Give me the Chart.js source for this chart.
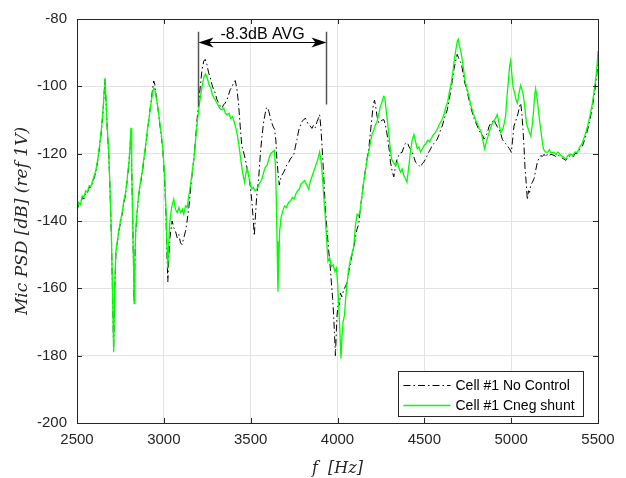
<!DOCTYPE html>
<html>
<head>
<meta charset="utf-8">
<script src="https://cdn.jsdelivr.net/npm/chart.js@4.4.1/dist/chart.umd.min.js"></script>
<style>
  html, body { margin: 0; padding: 0; background: #fff; }
  #wrap { width: 626px; height: 478px; position: relative; }
</style>
</head>
<body>
<div id="wrap"><canvas id="chart_micPsd"></canvas></div>
<script>
// axis ticks
var xTicks = [2500, 3000, 3500, 4000, 4500, 5000, 5500];
var yTicks = [-200, -180, -160, -140, -120, -100, -80];

// Cell #1 No Control (dash-dot black)
var freqNoCtrl = [
  2500, 2510, 2520, 2530, 2540, 2550, 2560, 2570, 2580, 2590, 2600, 2610, 2620, 2630, 2640, 2650, 2657, 2661, 2667, 2675,
  2683, 2690, 2698, 2705, 2711, 2717, 2724, 2731, 2740, 2750, 2760, 2770, 2780, 2790, 2800, 2806, 2811, 2815, 2821, 2825,
  2829, 2833, 2838, 2845, 2855, 2865, 2875, 2885, 2895, 2905, 2915, 2925, 2935, 2942, 2948, 2955, 2965, 2975, 2985, 2995,
  3005, 3012, 3018, 3023, 3028, 3035, 3048, 3057, 3067, 3077, 3086, 3096, 3105, 3115, 3125, 3134, 3144, 3153, 3163, 3173,
  3183, 3192, 3202, 3211, 3220, 3230, 3238, 3248, 3258, 3267, 3277, 3287, 3296, 3306, 3316, 3326, 3334, 3344, 3353, 3363,
  3373, 3382, 3392, 3401, 3411, 3420, 3430, 3440, 3449, 3459, 3469, 3478, 3488, 3497, 3507, 3514, 3521, 3528, 3535, 3546,
  3556, 3565, 3575, 3584, 3590, 3597, 3605, 3614, 3622, 3630, 3638, 3645, 3651, 3658, 3665, 3672, 3680, 3690, 3699, 3710,
  3720, 3728, 3737, 3747, 3757, 3767, 3777, 3787, 3795, 3805, 3815, 3824, 3834, 3843, 3853, 3862, 3872, 3882, 3890, 3897,
  3904, 3911, 3920, 3930, 3940, 3949, 3957, 3965, 3972, 3978, 3984, 3988, 3993, 3997, 4005, 4011, 4017, 4025, 4036, 4045,
  4055, 4065, 4074, 4084, 4094, 4103, 4112, 4122, 4132, 4141, 4151, 4160, 4170, 4180, 4190, 4199, 4206, 4213, 4220, 4228,
  4238, 4248, 4257, 4267, 4276, 4283, 4290, 4298, 4305, 4314, 4324, 4333, 4343, 4353, 4362, 4372, 4382, 4390, 4397, 4405,
  4412, 4420, 4430, 4440, 4449, 4459, 4469, 4478, 4488, 4497, 4507, 4517, 4526, 4536, 4545, 4555, 4564, 4574, 4584, 4593,
  4603, 4613, 4622, 4632, 4642, 4651, 4661, 4670, 4680, 4689, 4697, 4705, 4714, 4724, 4734, 4745, 4757, 4767, 4777, 4786,
  4795, 4805, 4815, 4825, 4835, 4844, 4853, 4863, 4872, 4882, 4892, 4901, 4910, 4920, 4930, 4940, 4949, 4958, 4968, 4978,
  4990, 5001, 5008, 5016, 5028, 5040, 5048, 5055, 5062, 5068, 5074, 5080, 5087, 5093, 5100, 5106, 5113, 5122, 5132, 5141,
  5151, 5160, 5170, 5180, 5190, 5200, 5209, 5220, 5230, 5247, 5260, 5275, 5286, 5300, 5314, 5328, 5343, 5355, 5368, 5382,
  5395, 5411, 5425, 5440, 5455, 5468, 5480, 5490, 5497, 5500
];
var psdNoCtrl = [
  -137, -135, -135.5, -133, -133.5, -131.5, -131.5, -130, -130, -128.5, -127, -125, -122, -118, -113.5, -107.5, -101.5, -98, -104.5, -113.5,
  -120.5, -130.5, -144.5, -162.5, -178.5, -160.5, -149.5, -147, -143.5, -140.5, -138, -134.5, -132, -127.5, -122.5, -117.5, -113, -124.5, -140.5, -152.5,
  -164, -152.5, -143.5, -138.5, -132.5, -129, -126, -122, -118, -113.5, -109.5, -105, -101, -98.4, -99.5, -102.5, -106, -110.5, -114.5, -119.5,
  -128, -138, -150, -158, -151, -145, -140, -142, -143, -145, -144, -146.5, -147, -145, -143, -140, -136, -131, -126, -121.5,
  -115.5, -109.5, -104, -99.5, -95, -92.5, -92, -93.5, -96, -97.3, -99.5, -101, -102, -104, -105, -106, -106.5, -105.5, -105, -104.1,
  -102.5, -101, -100.2, -99, -98.3, -100.5, -105, -112, -117.7, -119.5, -121.6, -124, -126.4, -129.5, -134.2, -139, -144.4, -138, -132.5, -127.4,
  -120, -114.8, -110.5, -108, -106.5, -106.2, -107.5, -109.5, -110.9, -112, -112.8, -116, -121.6, -126, -129.3, -127.5, -126.4, -125.5, -124.5, -123,
  -122.5, -121.6, -121, -120.6, -118, -115.7, -113, -111.5, -110.4, -110, -109.4, -110.5, -111.5, -111.8, -112.5, -111.5, -112.3, -110.5, -109.5, -108.4,
  -112, -117.7, -126, -136.1, -143, -148.7, -153, -158.4, -163, -168.2, -175, -180, -173, -168.2, -164, -165, -161.4, -162.5, -160.4, -159.5,
  -158.4, -155, -152.6, -150, -147.8, -145, -142.5, -141, -136, -132.5, -128.3, -125, -121.5, -118.6, -113.5, -108.9, -105.5, -104.1, -106, -109,
  -110.9, -110.5, -110, -109.9, -111.5, -113.5, -115.7, -119, -122.5, -125, -126.9, -124, -121.6, -120.5, -119.8, -119.6, -118, -117, -116.7, -117,
  -118, -118.6, -119.5, -121, -122.5, -123, -123.5, -124, -123, -122.5, -121.6, -120.5, -119.5, -118.6, -117.5, -117, -116.5, -115.7, -114.5, -113,
  -111.8, -110, -108.5, -107, -104.5, -101.5, -98.3, -95, -92.5, -90.5, -91.5, -92.5, -93.4, -96.5, -99.2, -101, -104, -106, -108, -109.5,
  -110.5, -111.8, -113, -114, -114.5, -115.7, -115, -113.8, -112, -111, -110.5, -109.9, -111, -112, -112.8, -114, -115.7, -116.5, -117, -117.7,
  -118.5, -119.6, -116, -111.8, -110, -108, -106, -105, -108.5, -112.8, -118, -124.5, -129, -133.7, -131, -131.5, -129.3, -128.5, -127.4, -125,
  -122.5, -121.5, -120.6, -120.8, -120.2, -121, -120.1, -120.5, -120.2, -120.5, -121, -120.5, -121, -121.5, -122, -121, -120.5, -121, -120, -119.8,
  -118.5, -117.7, -115.5, -113, -109.5, -106, -102, -98, -94.5, -93
];

// Cell #1 Cneg shunt (solid green)
var freqCneg = [
  2500, 2510, 2520, 2530, 2540, 2550, 2560, 2570, 2580, 2590, 2600, 2610, 2620, 2630, 2640, 2650, 2657, 2661, 2667, 2675,
  2683, 2690, 2698, 2705, 2711, 2717, 2724, 2731, 2740, 2750, 2760, 2770, 2780, 2790, 2800, 2806, 2811, 2815, 2821, 2825,
  2829, 2833, 2838, 2845, 2855, 2865, 2875, 2885, 2895, 2905, 2915, 2925, 2935, 2942, 2948, 2955, 2965, 2975, 2985, 2995,
  3005, 3012, 3018, 3023, 3028, 3035, 3045, 3057, 3067, 3077, 3087, 3097, 3107, 3115, 3125, 3134, 3144, 3153, 3163, 3173,
  3183, 3192, 3202, 3211, 3222, 3232, 3240, 3250, 3260, 3270, 3280, 3290, 3300, 3312, 3322, 3334, 3345, 3355, 3365, 3375,
  3385, 3395, 3405, 3415, 3425, 3435, 3445, 3455, 3465, 3472, 3480, 3490, 3500, 3507, 3515, 3525, 3536, 3545, 3555, 3565,
  3575, 3585, 3594, 3605, 3615, 3625, 3636, 3642, 3647, 3652, 3657, 3662, 3667, 3675, 3685, 3695, 3705, 3718, 3730, 3740,
  3750, 3760, 3770, 3780, 3790, 3800, 3810, 3820, 3834, 3845, 3855, 3865, 3875, 3885, 3897, 3905, 3912, 3920, 3930, 3938,
  3945, 3955, 3965, 3975, 3985, 3994, 4000, 4007, 4014, 4020, 4026, 4032, 4040, 4047, 4055, 4064, 4074, 4084, 4094, 4103,
  4113, 4122, 4132, 4142, 4151, 4161, 4170, 4180, 4190, 4200, 4209, 4218, 4228, 4238, 4247, 4257, 4265, 4272, 4280, 4288,
  4295, 4303, 4311, 4320, 4334, 4345, 4355, 4363, 4372, 4382, 4392, 4400, 4410, 4420, 4430, 4440, 4450, 4459, 4469, 4478,
  4490, 4500, 4510, 4520, 4530, 4540, 4550, 4560, 4574, 4585, 4595, 4605, 4615, 4625, 4635, 4645, 4655, 4665, 4674, 4682,
  4690, 4695, 4702, 4710, 4718, 4726, 4734, 4745, 4757, 4767, 4776, 4785, 4795, 4805, 4815, 4824, 4835, 4847, 4857, 4867,
  4877, 4887, 4897, 4910, 4920, 4930, 4940, 4950, 4960, 4968, 4976, 4984, 4991, 4997, 5004, 5011, 5020, 5028, 5036, 5045,
  5055, 5062, 5070, 5078, 5088, 5100, 5113, 5120, 5128, 5135, 5141, 5148, 5155, 5162, 5170, 5178, 5186, 5197, 5209, 5220,
  5230, 5247, 5258, 5270, 5286, 5300, 5314, 5328, 5343, 5355, 5368, 5382, 5395, 5411, 5425, 5440, 5455, 5468, 5480, 5490,
  5497, 5500
];
var psdCneg = [
  -136.5, -134.5, -135, -132.5, -133, -131, -131.5, -129.5, -129.8, -128, -126.5, -124.5, -121.5, -117.5, -113, -107, -101, -97.5, -104, -113,
  -120, -130, -144, -162, -179, -160, -149, -146.5, -143, -140, -137.5, -134, -131.5, -127, -122, -117, -112.3, -124, -140, -152,
  -164.5, -152, -143, -138, -132, -128.5, -125.5, -121.5, -117.5, -113, -109.5, -105.5, -102, -100.5, -101, -103, -106, -110, -114, -119,
  -127, -136, -147, -154, -147, -140, -136, -133.5, -136.5, -137.5, -136, -137.5, -136.5, -138, -135.5, -136, -132.5, -129.5, -125.5, -121.5,
  -116, -111, -106.5, -103, -99.5, -97, -96.3, -97.5, -99.5, -100.5, -102.5, -103.5, -104.5, -105.5, -106.5, -107, -106.5, -108, -108.5, -108,
  -109.5, -109, -110.5, -112.5, -115, -118.5, -122.5, -126, -128.5, -126, -124.5, -127, -129.5, -130.5, -130, -131, -130.5, -129.5, -128.5, -127.5,
  -125.5, -124, -123.5, -121.5, -120, -119.5, -119, -123, -132, -146, -161, -152, -143, -139, -137, -135.5, -136, -134.5, -134, -133,
  -133.5, -132, -131, -130.5, -129, -128.5, -128, -129, -130.5, -128, -126.5, -125, -123.5, -122, -119.5, -122, -126, -132, -139, -146,
  -152, -151, -153.5, -153, -155, -154, -158, -165, -173, -180.8, -174, -170, -168, -163, -158.5, -154.5, -151.5, -149.5, -147.5, -141.5,
  -138, -138.5, -136.5, -132, -128.5, -125, -122, -119.5, -116.5, -114, -113, -111.5, -110.5, -108, -106, -104.5, -103, -103.2, -107, -110.5,
  -114, -118, -121.5, -122.5, -123.5, -122.5, -124.5, -125.5, -124.5, -126.5, -127.5, -128.5, -124, -119.5, -116, -114.3, -116.5, -118.5, -118, -119.5,
  -118.5, -117.5, -117, -116, -116.5, -115.5, -114.5, -114, -112.8, -111.5, -110.5, -109.5, -108, -106, -104.5, -101.5, -99, -95.5, -91.5, -89,
  -86.5, -86, -88, -89.5, -92, -95, -98.3, -100.5, -103, -105.5, -107, -108.5, -110, -111, -112.5, -113, -115.5, -118.5, -116.5, -114.8,
  -113, -111.5, -110.5, -109.5, -108.4, -111, -113.8, -113, -111, -108.9, -103, -98.3, -94, -92.4, -96.5, -100.2, -102, -104, -105, -102,
  -99.7, -101, -102.6, -106, -110.9, -113, -114.8, -112, -108, -103, -100.7, -103, -106, -109.5, -112.8, -116, -118.6, -119.5, -119.6, -118.8,
  -119.8, -119.6, -120.3, -119.5, -120.6, -121, -121.6, -120.5, -120.1, -120.6, -119.5, -119.6, -118, -116.7, -114.5, -111.8, -108.5, -105, -100.5, -96.5,
  -92, -89.5
];

// averaged band annotation
var avgBand = [3198, 3936];
var avgBandTop = -83.8;
var avgBandBottom = -105.4;
var avgArrowLevel = -86.9;
var avgLabel = '-8.3dB AVG';

function toPoints(xs, ys) {
  return xs.map(function (x, i) { return { x: x, y: ys[i] }; });
}

var axisColor = '#262626';
var sansFont = '"Liberation Sans", Arial, Helvetica, sans-serif';
var mathFont = '"DejaVu Serif", "Liberation Serif", serif';

var chart_micPsd = new Chart(document.getElementById('chart_micPsd'), {
    type: 'scatter',
    data: {
        datasets: [
            {
                label: 'Cell #1 No Control',
                data: toPoints(freqNoCtrl, psdNoCtrl),
                showLine: true,
                borderColor: '#000000',
                borderWidth: 1,
                borderDash: [7, 3, 1.5, 3],
                pointRadius: 0,
                tension: 0,
                order: 1
            },
            {
                label: 'Cell #1 Cneg shunt',
                data: toPoints(freqCneg, psdCneg),
                showLine: true,
                borderColor: '#00ff00',
                borderWidth: 1.3,
                pointRadius: 0,
                tension: 0,
                order: 0
            }
        ]
    },
    options: {
        animation: false,
        responsive: true,
        maintainAspectRatio: false,
        layout: { padding: { top: 13, right: 28, left: 0, bottom: 0 } },
        plugins: {
            legend: { display: false },
            tooltip: { enabled: false }
        },
        scales: {
            x: {
                type: 'linear',
                min: 2500,
                max: 5500,
                afterBuildTicks: function (scale) {
                    scale.ticks = xTicks.map(function (v) { return { value: v }; });
                },
                afterFit: function (scale) { scale.height = 55; },
                ticks: {
                    color: axisColor,
                    font: { family: sansFont, size: 15 },
                    padding: 8,
                    maxRotation: 0,
                    callback: function (v) { return String(v); }
                },
                grid: { color: '#e3e3e3', drawTicks: false },
                border: { display: false },
                title: {
                    display: true,
                    text: 'f  [Hz]',
                    color: axisColor,
                    font: { family: mathFont, size: 16, style: 'italic' },
                    padding: { top: 7, bottom: 0 }
                }
            },
            y: {
                min: -200,
                max: -80,
                afterBuildTicks: function (scale) {
                    scale.ticks = yTicks.map(function (v) { return { value: v }; });
                },
                afterFit: function (scale) { scale.width = 77; },
                ticks: {
                    color: axisColor,
                    font: { family: sansFont, size: 15 },
                    padding: 10,
                    callback: function (v) { return String(v); }
                },
                grid: { color: '#e3e3e3', drawTicks: false },
                border: { display: false },
                title: {
                    display: true,
                    text: 'Mic PSD [dB] (ref 1V)',
                    color: axisColor,
                    font: { family: mathFont, size: 17, style: 'italic' },
                    padding: { top: 12, bottom: 0 }
                }
            }
        }
    },
    plugins: [{
        id: 'whiteBackground',
        beforeDraw: (chart) => {
            const ctx = chart.ctx;
            ctx.save();
            ctx.fillStyle = 'white';
            ctx.fillRect(0, 0, chart.width, chart.height);
            ctx.restore();
        }
    }, {
        id: 'frameAndAnnotation',
        afterDraw: (chart) => {
            const ctx = chart.ctx;
            const a = chart.chartArea;
            const xs = chart.scales.x, ys = chart.scales.y;
            ctx.save();

            // box + inward ticks (matlab style)
            ctx.strokeStyle = axisColor;
            ctx.lineWidth = 1;
            ctx.strokeRect(Math.round(a.left) + 0.5, Math.round(a.top) + 0.5, Math.round(a.right - a.left), Math.round(a.bottom - a.top));
            const tl = 5;
            ctx.beginPath();
            xTicks.forEach(function (v) {
                const px = Math.round(xs.getPixelForValue(v)) + 0.5;
                ctx.moveTo(px, a.bottom); ctx.lineTo(px, a.bottom - tl);
                ctx.moveTo(px, a.top); ctx.lineTo(px, a.top + tl);
            });
            yTicks.forEach(function (v) {
                const py = Math.round(ys.getPixelForValue(v)) + 0.5;
                ctx.moveTo(a.left, py); ctx.lineTo(a.left + tl, py);
                ctx.moveTo(a.right, py); ctx.lineTo(a.right - tl, py);
            });
            ctx.stroke();

            // averaging band
            const x1 = Math.round(xs.getPixelForValue(avgBand[0])) + 0.5;
            const x2 = Math.round(xs.getPixelForValue(avgBand[1])) + 0.5;
            const yt = ys.getPixelForValue(avgBandTop);
            const yb = ys.getPixelForValue(avgBandBottom);
            const ya = Math.round(ys.getPixelForValue(avgArrowLevel)) + 0.5;
            ctx.strokeStyle = '#555555';
            ctx.lineWidth = 1.5;
            ctx.beginPath();
            ctx.moveTo(x1, yt); ctx.lineTo(x1, yb);
            ctx.moveTo(x2, yt); ctx.lineTo(x2, yb);
            ctx.stroke();

            ctx.strokeStyle = '#000';
            ctx.fillStyle = '#000';
            ctx.lineWidth = 1;
            ctx.beginPath();
            ctx.moveTo(x1 + 4, ya); ctx.lineTo(x2 - 4, ya);
            ctx.stroke();
            const ah = 15, aw = 5;
            ctx.beginPath();
            ctx.moveTo(x1, ya); ctx.lineTo(x1 + ah, ya - aw); ctx.lineTo(x1 + ah - 4, ya); ctx.lineTo(x1 + ah, ya + aw); ctx.closePath();
            ctx.fill();
            ctx.beginPath();
            ctx.moveTo(x2, ya); ctx.lineTo(x2 - ah, ya - aw); ctx.lineTo(x2 - ah + 4, ya); ctx.lineTo(x2 - ah, ya + aw); ctx.closePath();
            ctx.fill();

            ctx.font = '16px ' + sansFont;
            ctx.textAlign = 'center';
            ctx.textBaseline = 'alphabetic';
            ctx.fillStyle = '#000';
            ctx.fillText(avgLabel, (x1 + x2) / 2, ya - 4);

            // legend, lower right inside the axes
            const lw = 185, lh = 45;
            const lx = Math.round(a.right - 15 - lw) + 0.5;
            const ly = Math.round(a.bottom - 7 - lh) + 0.5;
            ctx.fillStyle = '#fff';
            ctx.fillRect(lx, ly, lw, lh);
            ctx.strokeStyle = axisColor;
            ctx.lineWidth = 1;
            ctx.strokeRect(lx, ly, lw, lh);
            ctx.font = '14px ' + sansFont;
            ctx.textAlign = 'left';
            ctx.textBaseline = 'middle';
            const rows = [chart.data.datasets[0], chart.data.datasets[1]];
            rows.forEach(function (ds, i) {
                const ry = Math.round(ly + 13 + i * 20) + 0.5;
                ctx.strokeStyle = ds.borderColor;
                ctx.lineWidth = ds.borderWidth;
                ctx.setLineDash(ds.borderDash || []);
                ctx.beginPath();
                ctx.moveTo(lx + 5, ry); ctx.lineTo(lx + 52, ry);
                ctx.stroke();
                ctx.setLineDash([]);
                ctx.fillStyle = '#000';
                ctx.fillText(ds.label, lx + 57, ry + 1);
            });
            ctx.restore();
        }
    }]
});
</script>
</body>
</html>
